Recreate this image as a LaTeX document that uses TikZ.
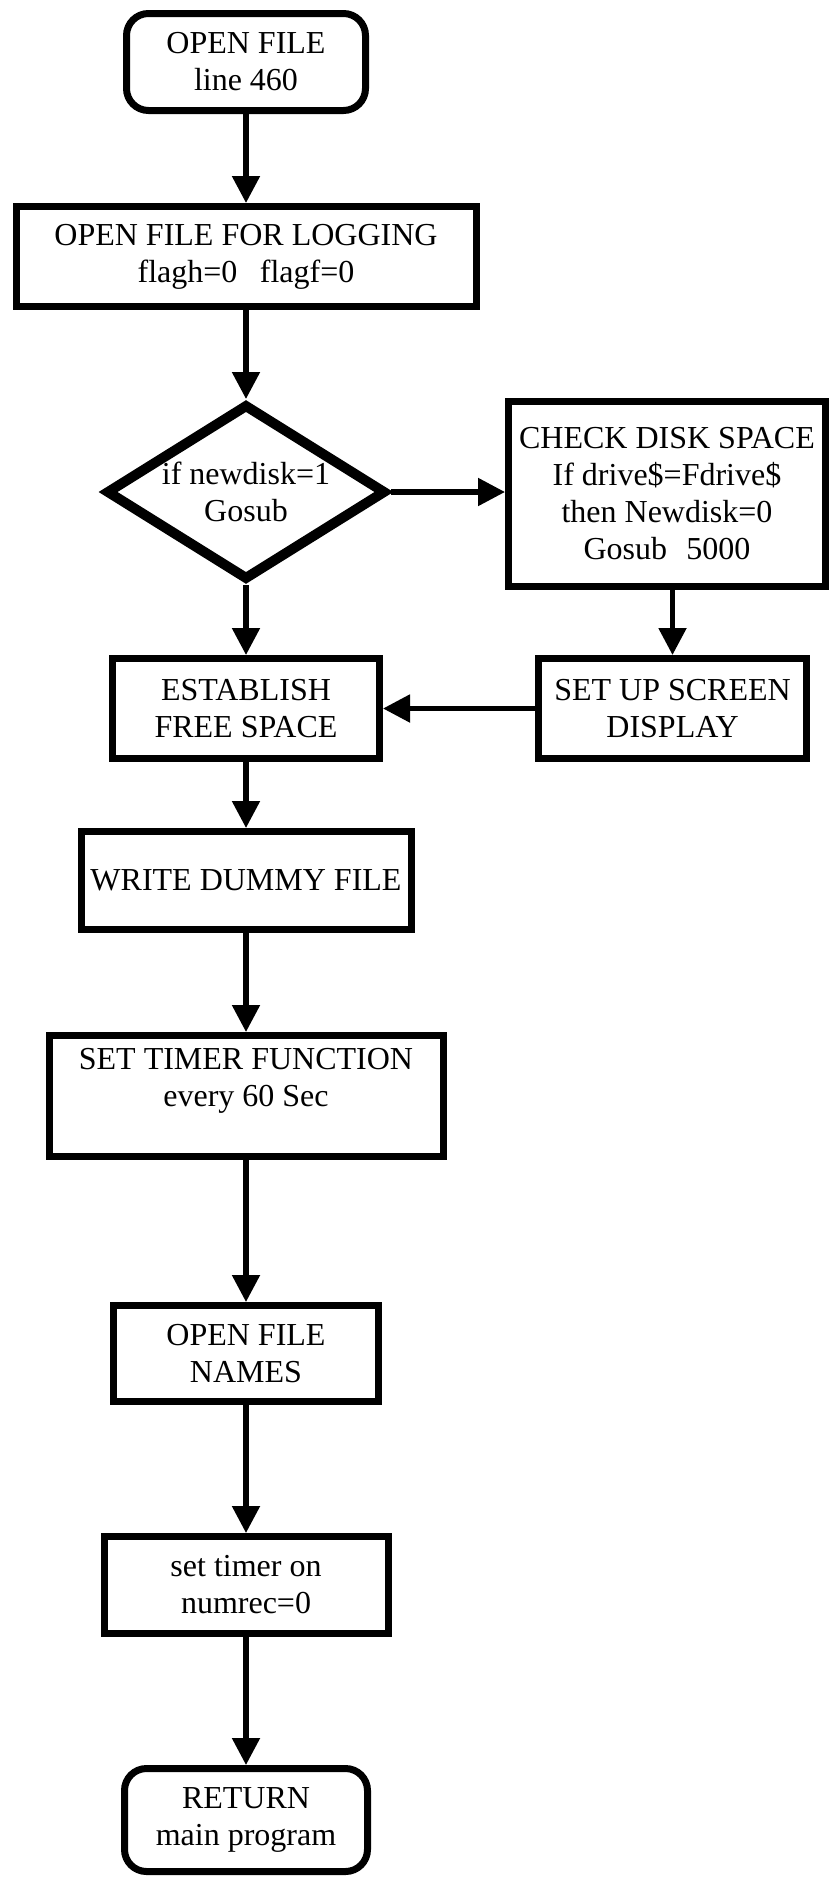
\documentclass[tikz,border=0pt]{standalone}
\usepackage{fontspec}
\setmainfont{Liberation Serif}
\usetikzlibrary{shapes.geometric,arrows.meta}
\begin{document}
\begin{tikzpicture}[x=0.5pt,y=-0.5pt,
  txt/.style={font=\fontsize{16pt}{18.5pt}\selectfont},
  box/.style={draw, line width=3.5pt, rectangle, align=center, inner sep=0pt, txt},
  term/.style={box, rounded corners=11pt},
  dec/.style={draw, line width=5pt, diamond, shape aspect=1.6, align=center, inner sep=0pt, txt},
  arr/.style={line width=2.6pt, -{Triangle[length=13.5pt,width=13.5pt]}}
]
\useasboundingbox (0,0) rectangle (833,1879);
\node[term, minimum width=119.5pt, minimum height=48.5pt] (start) at (246,62) {OPEN FILE\\line 460};
\node[box, minimum width=230pt, minimum height=50pt] (log) at (246,256.5) {OPEN FILE FOR LOGGING\\flagh=0\hspace{0.7em}flagf=0};
\node[dec, minimum width=140pt, minimum height=88pt] (nd) at (246,492) {if newdisk=1\\Gosub};
\node[box, minimum width=158.5pt, minimum height=92.5pt] (chk) at (667,494) {CHECK DISK SPACE\\If drive\$=Fdrive\$\\then Newdisk=0\\Gosub\hspace{0.6em}5000};
\node[box, minimum width=134pt, minimum height=50pt] (scr) at (672.5,708.5) {SET UP SCREEN\\DISPLAY};
\node[box, minimum width=133.5pt, minimum height=50pt] (est) at (246,708.5) {ESTABLISH\\FREE SPACE};
\node[box, minimum width=165pt, minimum height=49pt] (dum) at (246,880.5) {WRITE DUMMY FILE};
\node[box, minimum width=197pt, minimum height=60.5pt] (tim) at (246,1096) {SET TIMER FUNCTION\\every 60 Sec\\\mbox{}};
\node[box, minimum width=132.5pt, minimum height=48pt] (nam) at (246,1353.5) {OPEN FILE\\NAMES};
\node[box, minimum width=142pt, minimum height=48.5pt] (son) at (246,1585) {set timer on\\numrec=0};
\node[term, minimum width=121.5pt, minimum height=51.5pt] (ret) at (246,1820) {RETURN\\main program};

\draw[arr] (start) -- (log);
\draw[arr] (log) -- (nd);
\draw[arr] (nd.east) -- (nd.east -| chk.west);
\draw[arr] (nd) -- (est);
\draw[arr] (chk.south -| scr.north) -- (scr.north);
\draw[arr] (scr.west) -- (est.east);
\draw[arr] (est) -- (dum);
\draw[arr] (dum) -- (tim);
\draw[arr] (tim) -- (nam);
\draw[arr] (nam) -- (son);
\draw[arr] (son) -- (ret);
\end{tikzpicture}
\end{document}
